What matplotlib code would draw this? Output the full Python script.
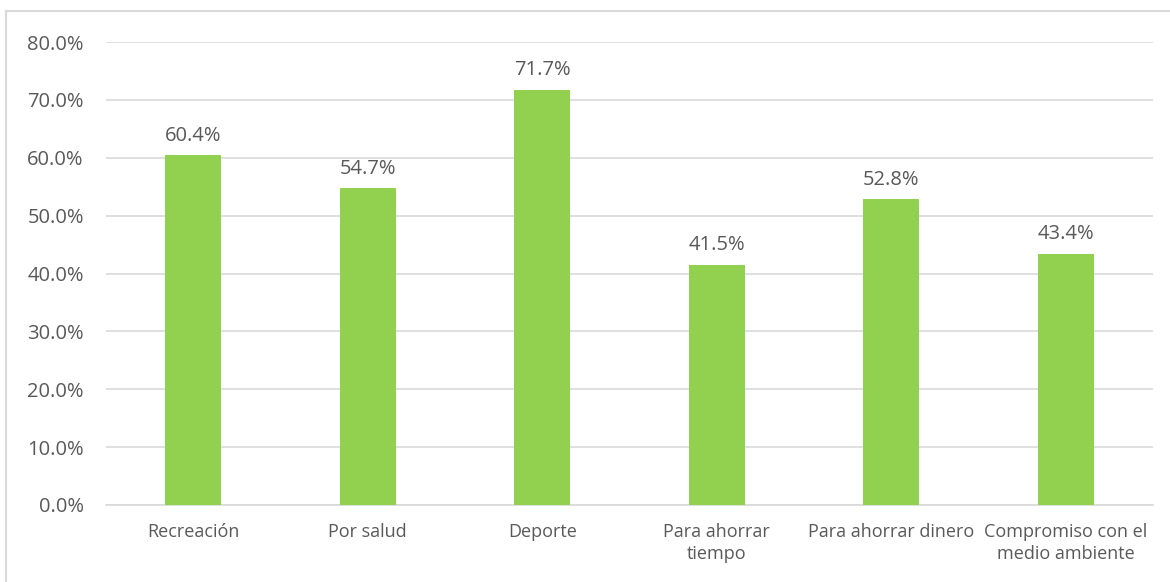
import matplotlib.pyplot as plt
from matplotlib.lines import Line2D
from matplotlib.ticker import FuncFormatter

categories = ["Recreación", "Por salud", "Deporte", "Para ahorrar\ntiempo",
              "Para ahorrar dinero", "Compromiso con el\nmedio ambiente"]
values = [60.4, 54.7, 71.7, 41.5, 52.8, 43.4]
yticks = [0, 10, 20, 30, 40, 50, 60, 70, 80]

W, H = 1170, 582
plt.rcParams["font.family"] = ["Open Sans", "DejaVu Sans"]
text_col = "#595959"

fig = plt.figure(figsize=(W / 100, H / 100), dpi=100)
ax = fig.add_axes([106 / W, 1 - 505 / H, (1153 - 106) / W, (505 - 42) / H])

x = range(len(categories))
bars = ax.bar(x, values, width=0.32, color="#92D050", zorder=3)
for xi, v in zip(x, values):
    ax.text(xi, v + 1.7, f"{v:.1f}%", ha="center", va="bottom",
            fontsize=14.5, color=text_col)

ax.set_xlim(-0.5, len(categories) - 0.5)
ax.set_ylim(0, 80)
ax.set_yticks(yticks)
ax.yaxis.set_major_formatter(FuncFormatter(lambda v, p: f"{v:.1f}%"))
ax.set_xticks(list(x))
ax.set_xticklabels(categories, fontsize=13, color=text_col, linespacing=1.25)
ax.tick_params(axis="y", labelsize=14.5, labelcolor=text_col, length=0, pad=16)
ax.tick_params(axis="x", length=0, pad=13)
ax.grid(axis="y", color="#d9d9d9", lw=1.2, zorder=0)
for s in ["top", "right", "left"]:
    ax.spines[s].set_visible(False)
ax.spines["bottom"].set_color("#d9d9d9")
ax.spines["bottom"].set_linewidth(1.2)

# outer chart border (top and left visible)
fig.add_artist(Line2D([6 / W, 1], [1 - 11 / H, 1 - 11 / H], color="#d9d9d9", lw=1.5,
                      transform=fig.transFigure))
fig.add_artist(Line2D([6 / W, 6 / W], [1 - 11 / H, 0], color="#d9d9d9", lw=1.5,
                      transform=fig.transFigure))

fig.savefig("out.png", dpi=100)
